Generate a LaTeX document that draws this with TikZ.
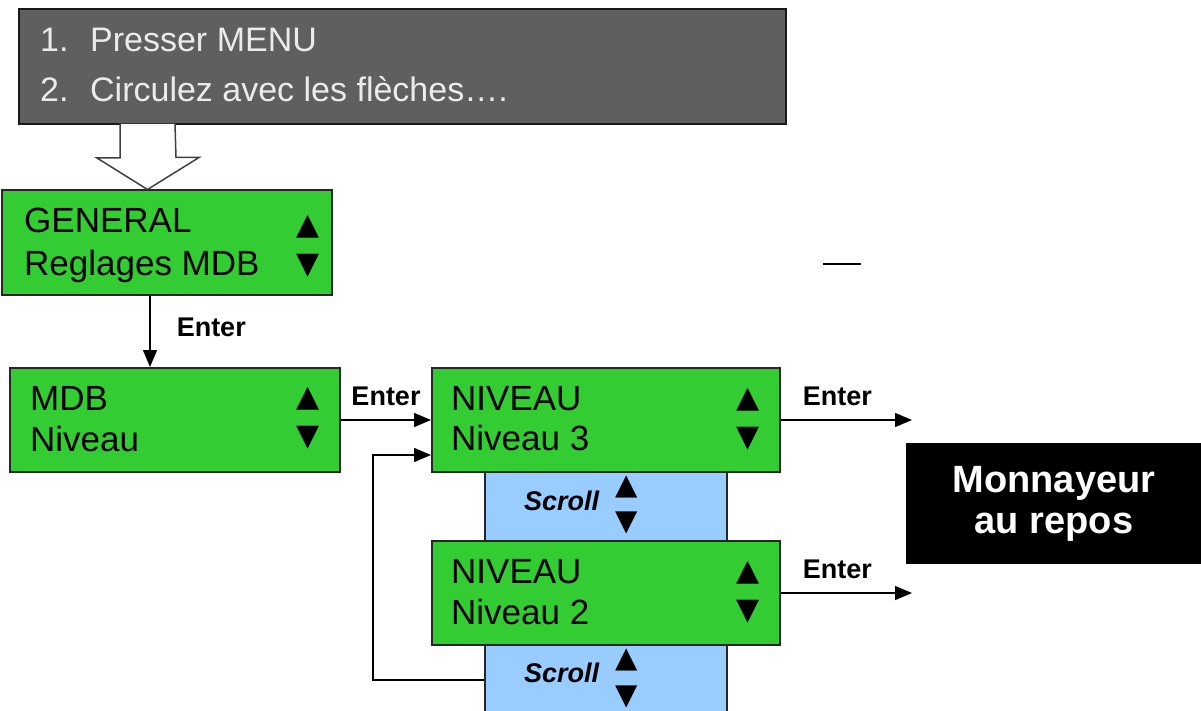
\documentclass[tikz,border=0pt]{standalone}
\usepackage{fontspec}
\setmainfont{Liberation Sans}
\newfontfamily\symbolfont{DejaVu Sans}
\usetikzlibrary{positioning,arrows.meta}
\definecolor{LcdGreen}{RGB}{51,204,51}
\definecolor{ScrollBlue}{RGB}{153,204,255}
\definecolor{MenuGrey}{RGB}{95,95,95}

\begin{document}
\begin{tikzpicture}[x=1pt, y=-1pt,
                every node/.style={inner sep=0pt},
                menu/.style={draw=black!90, line width=2pt, fill=MenuGrey, minimum width=767pt, minimum height=115pt},
                menutext/.style={text=white!92!black, font=\fontsize{34}{40}\selectfont, anchor=base west},
                lcd/.style={draw=black!85, line width=2pt, fill=LcdGreen, minimum height=104pt},
                lcdtext/.style={font=\fontsize{35}{41}\selectfont, anchor=base west},
                updown/.style={font=\symbolfont\fontsize{30}{39}\selectfont, align=center},
                scroll/.style={draw=black!85, line width=2pt, fill=ScrollBlue, minimum width=242pt},
                scrolltext/.style={font=\fontsize{27}{30}\selectfont\bfseries\itshape, anchor=base west},
                rest/.style={fill=black, text=white, minimum width=296pt, minimum height=121pt, align=center, font=\fontsize{38}{41}\selectfont\bfseries},
                hollow/.style={draw=black!75, fill=white, line width=1.5pt},
                link/.style={line width=1.5pt, -{Triangle[length=17pt, width=14pt]}},
                key/.style={font=\fontsize{27}{30}\selectfont\bfseries}]

                \useasboundingbox (0,0) rectangle (1201,711);
                \clip (0,0) rectangle (1201,711);

                % Instructions
                \node[menu] (menu) at (402.5,66.5) {};
                \node[menutext] (step1) at (40,52) {\makebox[50pt][l]{1.}Presser MENU};
                \node[menutext] (step2) at (40,102) {\makebox[50pt][l]{2.}Circulez avec les flèches….};
                \coordinate (push) at (147.5,124);

                % First menu
                \node[lcd, minimum width=330pt] (general) at (167,242.5) {};
                \node[lcdtext] (generaltop) at (24,233) {GENERAL};
                \node[lcdtext] (generalbot) at (24,275) {Reglages MDB};
                \node[updown] (generalkeys) at (308,246) {▲\\▼};

                \node[lcd, minimum width=330pt] (mdb) at (175,420) {};
                \node[lcdtext] (mdbtop) at (30,410) {MDB};
                \node[lcdtext] (mdbbot) at (30,451) {Niveau};
                \node[updown] (mdbkeys) at (308,418) {▲\\▼};

                % Levels
                \node[scroll, minimum height=69pt] (scroll1) at (606,506.5) {};
                \node[scrolltext] (scroll1text) at (524,510) {Scroll};
                \node[updown, font=\symbolfont\fontsize{29}{36}\selectfont] (scroll1keys) at (627,505) {▲\\▼};

                \node[scroll, minimum height=70pt] (scroll2) at (606,680) {};
                \node[scrolltext] (scroll2text) at (524,682) {Scroll};
                \node[updown, font=\symbolfont\fontsize{29}{37}\selectfont] (scroll2keys) at (627,678.5) {▲\\▼};

                \node[lcd, minimum width=348pt] (niv3) at (606,420) {};
                \node[lcdtext] (niv3top) at (451,410) {NIVEAU};
                \node[lcdtext] (niv3bot) at (451,450) {Niveau 3};
                \node[updown] (niv3keys) at (748,419) {▲\\▼};

                \node[lcd, minimum width=348pt] (niv2) at (606,593) {};
                \node[lcdtext] (niv2top) at (451,583) {NIVEAU};
                \node[lcdtext] (niv2bot) at (451,624) {Niveau 2};
                \node[updown] (niv2keys) at (748,592.5) {▲\\▼};

                % Idle state
                \node[rest] (idle) at (1054,503.5) {Monnayeur\\au repos};
                \coordinate (exit3) at (912,420);
                \coordinate (exit2) at (912,593);

                % Edges
                \draw[hollow] ([xshift=-27.5pt]push) -- ++(0,34) -- ++(-23,0) -- (push |- general.north)
                    -- ++(51.5,-32) -- ++(-23,0) -- ([xshift=27.5pt]push);
                \draw[link] ([xshift=-17pt]general.south) -- ([xshift=-25pt]mdb.north)
                    node[key, pos=0.44, right=26pt] {Enter};
                \draw[link] (mdb) -- (niv3) node[key, midway, above=13pt] {Enter};
                \draw[link] (niv3) -- (exit3) node[key, pos=0.43, above=13pt] {Enter};
                \draw[link] (niv2) -- (exit2) node[key, pos=0.43, above=13pt] {Enter};
                \draw[link] (scroll2.west) -| ([xshift=-58pt, yshift=-35pt]niv3.west) -- ([yshift=-35pt]niv3.west);
                \draw[line width=1.5pt] (823,264) -- (861,264);
            \end{tikzpicture}
\end{document}
